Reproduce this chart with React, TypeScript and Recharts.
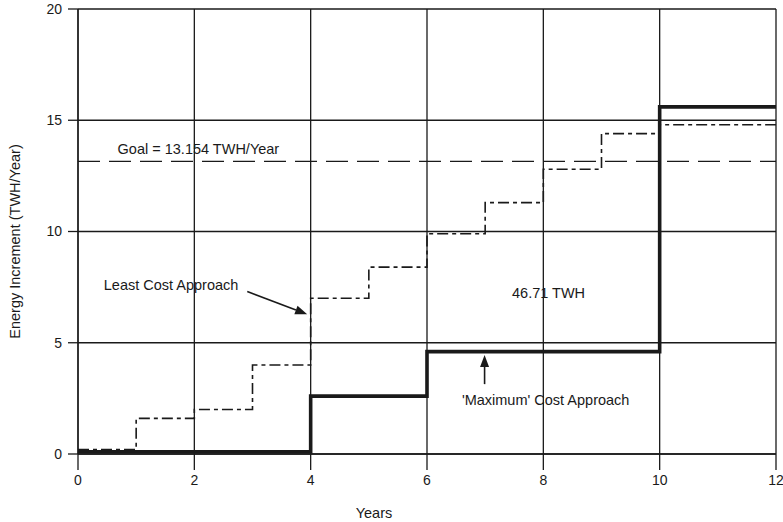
import {
  CartesianGrid,
  Line,
  LineChart,
  ReferenceDot,
  ReferenceLine,
  XAxis,
  YAxis,
} from "recharts";

// year boundaries (stepAfter: value holds until next year)
const years = [0, 1, 2, 3, 4, 5, 6, 7, 8, 9, 10, 11, 12];
const leastCost = [0.2, 1.6, 2.0, 4.0, 7.0, 8.4, 9.9, 11.3, 12.8, 14.4, 14.8, 14.8, 14.8];
const maximumCost = [0.1, 0.1, 0.1, 0.1, 2.6, 2.6, 4.6, 4.6, 4.6, 4.6, 15.6, 15.6, 15.6];

const xTicks = [0, 2, 4, 6, 8, 10, 12];
const yTicks = [0, 5, 10, 15, 20];
const goal = 13.154;

const data = years.map((year, i) => ({
  year,
  least: leastCost[i],
  maximum: maximumCost[i],
}));

const INK = "#1a1a1a";
const FONT = "'Liberation Sans', Arial, Helvetica, sans-serif";
const TEXT_SIZE = 14.5;

// arrow drawn from the first segment point to the second, head at the end
function Arrow(props: any) {
  const { x1, y1, x2, y2 } = props;
  const ang = Math.atan2(y2 - y1, x2 - x1);
  const len = 12;
  const half = 4.5;
  const bx = x2 - len * Math.cos(ang);
  const by = y2 - len * Math.sin(ang);
  const px = -Math.sin(ang) * half;
  const py = Math.cos(ang) * half;
  return (
    <g>
      <line x1={x1} y1={y1} x2={bx} y2={by} stroke={INK} strokeWidth={1.6} />
      <polygon
        points={`${x2},${y2} ${bx + px},${by + py} ${bx - px},${by - py}`}
        fill={INK}
      />
    </g>
  );
}

function YTitle({ viewBox }: any) {
  const cx = viewBox.x + 15;
  const cy = viewBox.y + viewBox.height / 2 + 10;
  return (
    <text
      x={cx}
      y={cy}
      transform={`rotate(-90 ${cx} ${cy})`}
      textAnchor="middle"
      dominantBaseline="central"
      fontSize={TEXT_SIZE}
      fill={INK}
    >
      Energy Increment (TWH/Year)
    </text>
  );
}

function XTitle({ viewBox }: any) {
  return (
    <text
      x={viewBox.x + viewBox.width / 2 - 53}
      y={viewBox.y + 59}
      textAnchor="middle"
      dominantBaseline="central"
      fontSize={TEXT_SIZE}
      fill={INK}
    >
      Years
    </text>
  );
}

const note = (value: string) => ({
  value,
  position: "center" as const,
  fill: INK,
  fontSize: TEXT_SIZE,
});

export default function App() {
  return (
    <div
      style={{
        position: "absolute",
        left: 0,
        top: 0,
        width: 783,
        height: 522,
        background: "#fff",
        fontFamily: FONT,
      }}
    >
      <LineChart
        width={783}
        height={522}
        data={data}
        margin={{ top: 9, right: 7, bottom: 28, left: 0 }}
      >
        <CartesianGrid stroke={INK} strokeWidth={1.3} />
        <XAxis
          dataKey="year"
          type="number"
          domain={[0, 12]}
          ticks={xTicks}
          height={40}
          tickSize={16}
          tickMargin={5}
          stroke={INK}
          strokeWidth={1.3}
          tick={{ fill: INK, fontSize: 14 }}
          label={<XTitle />}
        />
        <YAxis
          type="number"
          domain={[0, 20]}
          ticks={yTicks}
          width={78}
          tickSize={10}
          tickMargin={6}
          stroke={INK}
          strokeWidth={1.3}
          tick={{ fill: INK, fontSize: 14 }}
          label={<YTitle />}
        />
        <ReferenceLine
          y={goal}
          stroke={INK}
          strokeWidth={1.2}
          strokeDasharray="22 9"
        />
        <Line
          type="stepAfter"
          dataKey="least"
          stroke={INK}
          strokeWidth={1.6}
          strokeDasharray="11 4 4 4"
          dot={false}
          isAnimationActive={false}
        />
        <Line
          type="stepAfter"
          dataKey="maximum"
          stroke={INK}
          strokeWidth={3.6}
          dot={false}
          isAnimationActive={false}
        />
        <ReferenceDot x={2.07} y={13.7} r={0} stroke="none" fill="none" label={note("Goal = 13.154 TWH/Year")} />
        <ReferenceDot x={1.6} y={7.6} r={0} stroke="none" fill="none" label={note("Least Cost Approach")} />
        <ReferenceDot x={8.09} y={7.26} r={0} stroke="none" fill="none" label={note("46.71 TWH")} />
        <ReferenceDot x={8.04} y={2.44} r={0} stroke="none" fill="none" label={note("'Maximum' Cost Approach")} />
        <ReferenceLine
          segment={[
            { x: 2.91, y: 7.3 },
            { x: 3.94, y: 6.28 },
          ]}
          shape={<Arrow />}
        />
        <ReferenceLine
          segment={[
            { x: 6.99, y: 3.14 },
            { x: 6.99, y: 4.45 },
          ]}
          shape={<Arrow />}
        />
      </LineChart>
    </div>
  );
}
